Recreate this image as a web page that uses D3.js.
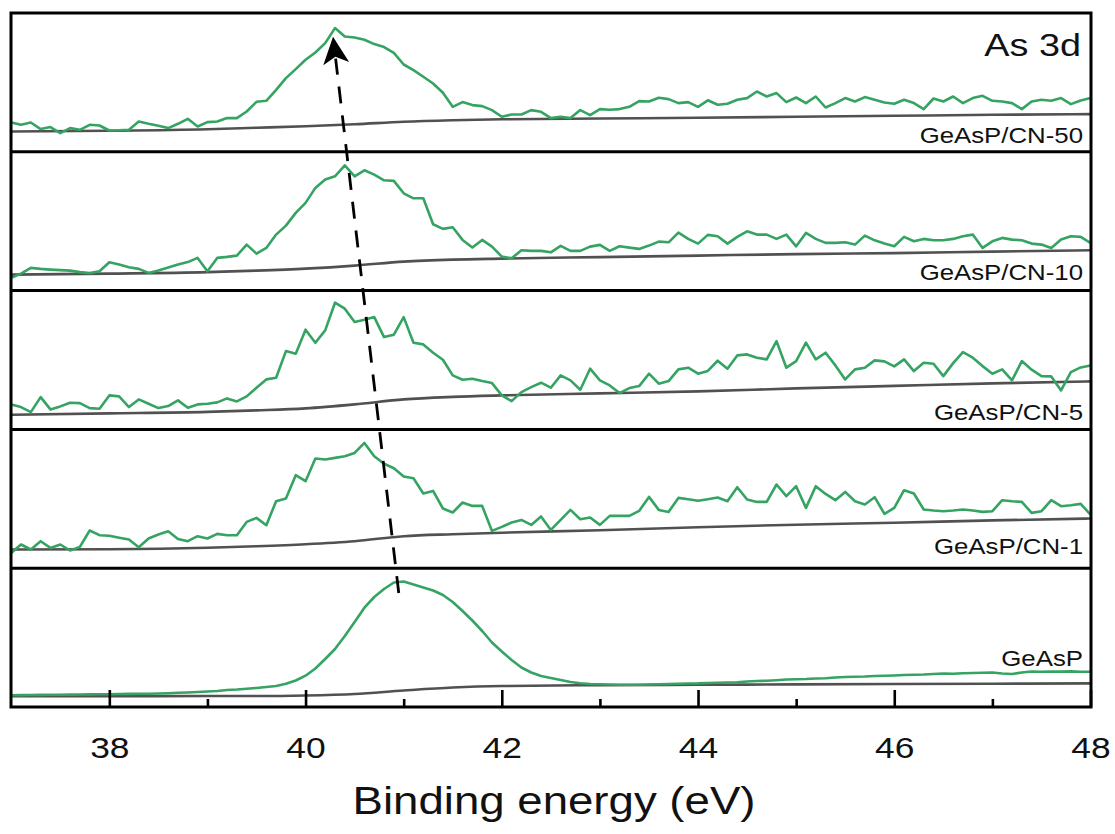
<!DOCTYPE html>
<html>
<head>
<meta charset="utf-8">
<script src="https://cdn.jsdelivr.net/npm/d3@7"></script>
<style>
  html, body { margin: 0; padding: 0; background: #fff; }
  svg { display: block; }
  text { font-family: Arial, "Liberation Sans", Helvetica, sans-serif; fill: #111; }
</style>
</head>
<body>
<svg id="chart" width="1115" height="834"></svg>
<script>
// ---------------- DATA ----------------
const energy = [
  37.0,37.1,37.2,37.3,37.4,37.5,37.6,37.7,37.8,37.9,
  38.0,38.1,38.2,38.3,38.4,38.5,38.6,38.7,38.8,38.9,
  39.0,39.1,39.2,39.3,39.4,39.5,39.6,39.7,39.8,39.9,
  40.0,40.1,40.2,40.3,40.4,40.5,40.6,40.7,40.8,40.9,
  41.0,41.1,41.2,41.3,41.4,41.5,41.6,41.7,41.8,41.9,
  42.0,42.1,42.2,42.3,42.4,42.5,42.6,42.7,42.8,42.9,
  43.0,43.1,43.2,43.3,43.4,43.5,43.6,43.7,43.8,43.9,
  44.0,44.1,44.2,44.3,44.4,44.5,44.6,44.7,44.8,44.9,
  45.0,45.1,45.2,45.3,45.4,45.5,45.6,45.7,45.8,45.9,
  46.0,46.1,46.2,46.3,46.4,46.5,46.6,46.7,46.8,46.9,
  47.0,47.1,47.2,47.3,47.4,47.5,47.6,47.7,47.8,47.9,
  48.0
];

const sampleNames = ["GeAsP/CN-50", "GeAsP/CN-10", "GeAsP/CN-5", "GeAsP/CN-1", "GeAsP"];

// Intensities (a.u.), per panel, top to bottom
const intensityCN50 = [
  29.3,27,29.3,22.7,24.7,18.7,23.7,22,27,26.3,
  21.3,21.5,22,30.3,28,26,23.7,28,33,25.3,
  29.7,30.3,33.7,33.7,40.3,50,51,62,73.7,82.7,
  92,99.3,108.7,123.7,115.3,114.3,112,107.7,104.7,99,
  87.3,81.7,75,68.3,59,45,49.7,46.7,45.7,41.7,
  35,37.3,37.3,41.7,40,33.7,35,33.7,41.7,36.7,
  42.7,42,42.7,45,50.7,50.3,54,52.7,48.7,49.7,
  45,51.5,47,48,52,53.7,60.3,55.3,58.7,49.7,
  54.3,48.7,55.3,44.3,48.7,53.7,50.3,54.7,52,49.3,
  48,52,48.7,42.7,53.3,50.3,55.3,48.7,53.7,56,
  51,50.3,48.7,42.7,50.3,52,51,53.7,47.7,51.3,
  53.7
];
const intensityCN10 = [
  12.7,17,22.7,21.7,21,20.5,20,18.5,17.5,19.3,
  28.3,26,23.3,21.7,17.7,20,23,26,28.5,32.7,
  19.3,32.7,33.7,35,46,37,42.7,56,65,77.7,
  87.7,102.7,111,114.3,125.3,114.3,120.3,116,110.3,109.7,
  97.3,92.3,92.3,66.3,61.7,63.3,50.7,43,50.7,44,
  34,32.3,40.3,39.7,39.7,38.3,44.7,39.7,39.7,44,
  45.7,39.7,44.3,43,41.7,45,49,48.3,58,51.7,
  47,55.7,54.3,47,53.7,59.3,56,56,51.7,56,
  44.3,57.7,51.7,47.7,47.7,48.3,46,55,50.3,47,
  44.3,53.7,49.3,51.7,50.3,50.3,51.7,54.3,56,42.7,
  49.3,52.7,51,50.3,47,46,42.7,51,54.3,53.7,
  47.7
];
const intensityCN5 = [
  25,22.3,17.3,32.3,20,23,26.7,26.3,21.3,20.7,
  34,33,22.3,30,25.7,21.3,23.3,29,21.7,25,
  25.7,27,31,28,33,41.7,50,51.7,78.3,75.7,
  99.7,86.7,99,126.7,120.7,107.3,109.7,112.3,92.3,94.7,
  112.3,86.7,85,76.7,69.7,54,49.7,50.7,48.3,46.3,
  34,28.3,37.3,42.3,46.7,41.7,54,49,39.7,60.7,
  49,44,36.3,41.3,43.3,55.7,45.7,48.3,60,61.7,
  55.7,58.5,68.7,60.7,74,75,71.7,70,88.3,61.7,
  68.3,86.7,70,76.7,64,50,60,61.7,69,68,
  63,70,58.3,66.7,65.7,53.3,66.3,77.3,71.7,63.3,
  55.7,60,49,68.3,59.7,53.3,53,39,57.3,62,
  64
];
const intensityCN1 = [
  15.3,23.7,18.7,27,20.3,23.7,17.7,21.3,37.7,33,
  32.5,30.5,28.7,21,29.7,33.7,37,29.3,27,32,
  29.7,34.3,33,33,46.3,50.3,43,67,69.7,93,
  87,109.7,108.7,110.3,112,115.3,125.3,112,104.5,100,
  91.7,90,74.7,77.3,59.7,55.7,65.7,62.3,62.3,37.3,
  41.3,45.7,48.3,43.3,51.7,38.3,48.3,58.3,49,50.7,
  43.3,52.3,52.3,52.3,57.3,71.3,58.3,56.3,70.3,69,
  67.5,69,70.7,67,81,68.7,66.3,66.3,83.7,72,
  82,60.3,82,74.3,68,76.3,67,63.7,71,54.3,
  60.3,78,74.7,58.7,57.7,57,57.7,58.7,57.7,56.3,
  57,68,67,66.3,55.3,57,68,62,63,64.3,
  53.7
];
const intensityGeAsP = [
  11.8,11.9,12.0,12.1,12.2,12.3,12.4,12.5,12.6,12.7,
  12.8,13.0,13.1,13.2,13.3,13.5,13.8,14.2,14.5,15.0,
  15.5,16,17,17.5,18.3,19,20,21,23.3,26.5,
  31.3,38.5,48,58,71,85,99.3,110,118,124.5,
  125.5,122.5,119.5,116.5,112,105,96,86.5,76,64.5,
  55.5,47,39.5,34.5,31,29,27,25,23.8,23,
  22.7,22.5,22.3,22.2,22.3,22.5,22.8,23,23.3,23.5,
  23.6,24,24.3,24.5,24.8,25.5,26,26.2,26.8,27.5,
  27.8,28,28.5,28.8,29.5,30,30.3,30.5,31,31.2,
  31.5,32,32.3,32.5,33,33.5,33.3,33.8,34,34.2,
  34.5,33.5,33,34.5,35.5,35.3,35.5,35.4,35.6,35.2,
  35.3
];

// Shirley-type backgrounds (a.u.)
const bgEnergy = [37, 38, 39, 39.5, 40, 40.5, 41, 41.5, 42, 43, 44, 45, 46, 47, 48];
const backgroundCN50  = [20.3, 21, 22.5, 24, 25.5, 27.5, 30, 31.5, 32.5, 33.3, 34, 35, 36, 37, 37.7];
const backgroundCN10  = [16, 17, 18.5, 20, 22, 25, 29, 31, 32, 33.5, 35, 36.5, 37.5, 39, 40.3];
const backgroundCN5   = [14.7, 16, 17.5, 19, 21, 25, 30, 32.5, 34, 36, 38, 41, 43.5, 46, 48];
const backgroundCN1   = [18.7, 19, 20.5, 22, 24, 27, 32, 34, 35.5, 38, 41, 43.5, 45.5, 47.8, 49.7];
const backgroundGeAsP = [10.8, 10.8, 11, 11, 11.5, 13, 16.5, 19.5, 21, 21.8, 22.2, 22.6, 23, 23.3, 23.6];

const intensities = [intensityCN50, intensityCN10, intensityCN5, intensityCN1, intensityGeAsP];
const backgrounds = [backgroundCN50, backgroundCN10, backgroundCN5, backgroundCN1, backgroundGeAsP];

const majorTicks = [38, 40, 42, 44, 46, 48];
const minorTicks = [39, 41, 43, 45, 47];
const xDomain = [37, 48];
const yDomain = [0, 138.8];

// Peak-shift arrow: from GeAsP peak (bottom panel) to CN-50 peak (top panel)
const arrowStart = { energy: 40.95, panel: 4, intensity: 114 };
const arrowEnd   = { energy: 40.28, panel: 0, intensity: 115 };

const title = "As 3d";
const xLabel = "Binding energy (eV)";

// ---------------- LAYOUT ----------------
const svg = d3.select("#chart");
const frame = { left: 11, right: 1091, top: 13, bottom: 707 };
const nPanels = sampleNames.length;
const panelH = (frame.bottom - frame.top) / nPanels;
const STRETCH = 1.2; // text in the reference is horizontally stretched

const green = "#35a362";
const grey = "#515151";

const x = d3.scaleLinear().domain(xDomain).range([frame.left + 0.2, frame.right - 0.5]);
const yScales = d3.range(nPanels).map(i =>
  d3.scaleLinear().domain(yDomain).range([frame.top + panelH * (i + 1), frame.top + panelH * i])
);

// clip
svg.append("defs").append("clipPath").attr("id", "plotclip")
  .append("rect").attr("x", frame.left).attr("y", frame.top)
  .attr("width", frame.right - frame.left).attr("height", frame.bottom - frame.top);

const plot = svg.append("g").attr("clip-path", "url(#plotclip)");

for (let i = 0; i < nPanels; i++) {
  const y = yScales[i];
  const bgLine = d3.line().x((d, k) => x(bgEnergy[k])).y(d => y(d)).curve(d3.curveMonotoneX);
  plot.append("path").datum(backgrounds[i])
    .attr("d", bgLine).attr("fill", "none")
    .attr("stroke", grey).attr("stroke-width", 2.6);

  const line = d3.line().x((d, k) => x(energy[k])).y(d => y(d));
  plot.append("path").datum(intensities[i])
    .attr("d", line).attr("fill", "none")
    .attr("stroke", green).attr("stroke-width", 2.6)
    .attr("stroke-linejoin", "round");
}

// panel separators
for (let i = 1; i < nPanels; i++) {
  const yy = yScales[i].range()[1];
  svg.append("line")
    .attr("x1", frame.left).attr("x2", frame.right)
    .attr("y1", yy).attr("y2", yy)
    .attr("stroke", "#000").attr("stroke-width", 3);
}

// frame
svg.append("rect")
  .attr("x", frame.left).attr("y", frame.top)
  .attr("width", frame.right - frame.left).attr("height", frame.bottom - frame.top)
  .attr("fill", "none").attr("stroke", "#000").attr("stroke-width", 3);

// axes (ticks point inward)
const axisMajor = d3.axisBottom(x).tickValues(majorTicks).tickSize(-17).tickPadding(0)
  .tickFormat(d3.format("d"));
const gx = svg.append("g").attr("transform", `translate(0,${frame.bottom})`).call(axisMajor);
gx.select(".domain").remove();
gx.selectAll(".tick line").attr("stroke", "#000").attr("stroke-width", 2.6);
gx.selectAll(".tick text")
  .attr("y", 0).attr("dy", null)
  .attr("transform", `translate(0,51) scale(${STRETCH},1)`)
  .attr("font-size", 29.5).attr("fill", "#111")
  .style("font-family", "Arial, 'Liberation Sans', sans-serif");

const axisMinor = d3.axisBottom(x).tickValues(minorTicks).tickSize(-8).tickFormat("");
const gm = svg.append("g").attr("transform", `translate(0,${frame.bottom})`).call(axisMinor);
gm.select(".domain").remove();
gm.selectAll(".tick line").attr("stroke", "#000").attr("stroke-width", 2.6);

// x label
svg.append("text")
  .attr("transform", `translate(${(frame.left + frame.right) / 2 + 3},814) scale(${STRETCH},1)`)
  .attr("text-anchor", "middle").attr("font-size", 38)
  .text(xLabel);

// title
svg.append("text")
  .attr("transform", `translate(1081,56) scale(${STRETCH},1)`)
  .attr("text-anchor", "end").attr("font-size", 31.5)
  .text(title);

// sample labels
const labelBaselineOffset = [9, 11, 9, 14, 41];
sampleNames.forEach((name, i) => {
  const yb = yScales[i].range()[0] - labelBaselineOffset[i];
  svg.append("text")
    .attr("transform", `translate(1083,${yb}) scale(${STRETCH},1)`)
    .attr("text-anchor", "end").attr("font-size", 21.5)
    .text(name);
});

// dashed arrow showing peak shift
const p0 = [x(arrowStart.energy), yScales[arrowStart.panel](arrowStart.intensity)];
const p1 = [x(arrowEnd.energy), yScales[arrowEnd.panel](arrowEnd.intensity)];
const dx = p1[0] - p0[0], dy = p1[1] - p0[1];
const L = Math.hypot(dx, dy);
const ux = dx / L, uy = dy / L;     // unit direction toward tip
const nx = -uy, ny = ux;            // normal
const headLen = 27, headHalf = 13, notch = 20;
const lineEnd = [p1[0] - ux * (notch + 2), p1[1] - uy * (notch + 2)];

svg.append("line")
  .attr("x1", p0[0]).attr("y1", p0[1])
  .attr("x2", lineEnd[0]).attr("y2", lineEnd[1])
  .attr("stroke", "#000").attr("stroke-width", 2.8)
  .attr("stroke-dasharray", "17,12");

const base = [p1[0] - ux * headLen, p1[1] - uy * headLen];
const head = [
  p1,
  [base[0] + nx * headHalf, base[1] + ny * headHalf],
  [p1[0] - ux * notch, p1[1] - uy * notch],
  [base[0] - nx * headHalf, base[1] - ny * headHalf]
];
svg.append("path")
  .attr("d", "M" + head.map(p => p.join(",")).join("L") + "Z")
  .attr("fill", "#000");
</script>
</body>
</html>
